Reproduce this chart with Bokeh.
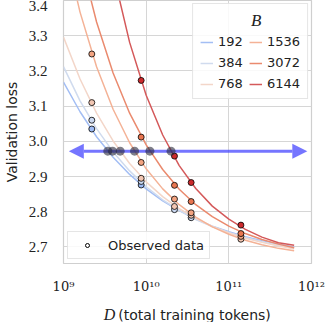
from bokeh.plotting import figure
from bokeh.layouts import column
from bokeh.models import (FixedTicker, Legend, LegendItem, Arrow, NormalHead,
                          NumeralTickFormatter)
from bokeh.core.properties import value
from bokeh.embed import file_html
from bokeh.resources import INLINE

# ---------------- data ----------------
batch_sizes = [192, 384, 768, 1536, 3072, 6144]
legend_title = "B"

# fitted curves at log10(D) grid
curve_log10_D = [9.0, 9.2, 9.4, 9.6, 9.8, 10.0, 10.2, 10.4, 10.6, 10.8, 11.0, 11.2, 11.4, 11.6, 11.79]
curve_192 = [3.168, 3.084, 3.013, 2.955, 2.906, 2.865, 2.831, 2.803, 2.779, 2.759, 2.743, 2.729, 2.718, 2.708, 2.700]
curve_384 = [3.212, 3.115, 3.036, 2.970, 2.916, 2.871, 2.834, 2.804, 2.778, 2.758, 2.741, 2.727, 2.715, 2.705, 2.698]
curve_768 = [3.296, 3.177, 3.080, 3.001, 2.937, 2.885, 2.843, 2.809, 2.781, 2.758, 2.740, 2.725, 2.713, 2.703, 2.695]
curve_1536 = [3.566, 3.367, 3.212, 3.091, 2.996, 2.922, 2.865, 2.820, 2.785, 2.757, 2.736, 2.719, 2.706, 2.696, 2.689]
curve_3072 = [3.759, 3.524, 3.339, 3.194, 3.080, 2.990, 2.920, 2.864, 2.820, 2.786, 2.759, 2.738, 2.721, 2.708, 2.698]
curve_6144 = [4.534, 4.083, 3.740, 3.479, 3.281, 3.131, 3.018, 2.931, 2.866, 2.816, 2.779, 2.750, 2.728, 2.712, 2.705]

# observed data points
obs_D_192 = [2.2e9, 8.7e9]
obs_L_192 = [3.035, 2.876]
obs_D_384 = [2.2e9, 8.7e9, 2.2e10, 3.5e10]
obs_L_384 = [3.060, 2.886, 2.806, 2.783]
obs_D_768 = [2.2e9, 8.7e9, 2.2e10, 3.5e10, 1.4e11]
obs_L_768 = [3.110, 2.895, 2.815, 2.790, 2.722]
obs_D_1536 = [2.2e9, 8.7e9, 2.2e10, 3.5e10, 1.4e11]
obs_L_1536 = [3.248, 2.940, 2.836, 2.797, 2.730]
obs_D_3072 = [8.7e9, 2.2e10, 3.5e10, 1.4e11]
obs_L_3072 = [3.012, 2.875, 2.829, 2.738]
obs_D_6144 = [8.7e9, 2.2e10, 3.5e10, 1.4e11]
obs_L_6144 = [3.173, 2.958, 2.883, 2.762]

# target loss line and where each curve crosses it
target_loss = 2.972
crossing_D = [3.43e9, 3.92e9, 4.85e9, 7.24e9, 1.11e10, 2.0e10]
arrow_D_start = 1.16e9
arrow_D_end = 8.9e11

x_ticks = [1e9, 1e10, 1e11, 1e12]
x_tick_labels = ["10⁹", "10¹⁰", "10¹¹", "10¹²"]
y_ticks = [2.7, 2.8, 2.9, 3.0, 3.1, 3.2, 3.3, 3.4]
x_label_var = "D"
x_label_rest = "(total training tokens)"

# ---------------- style ----------------
line_colors = ["#a3bef4", "#d0dbee", "#f3d6c9", "#f4b296", "#ea8a6e", "#d4595a"]
point_colors = ["#9dbbf5", "#cbd9f2", "#f2c6b2", "#f3a380", "#e8754f", "#cc2a2c"]
serif = "Liberation Serif"
sans = "DejaVu Sans"
ink = "#222222"

p = figure(width=327, height=296, x_axis_type="log",
           x_range=(1e9, 1e12), y_range=(2.653, 3.4),
           output_backend="svg", toolbar_location=None,
           min_border_top=0, min_border_left=53, min_border_right=16,
           min_border_bottom=26)

p.outline_line_color = "#cfcfcf"
p.outline_line_width = 1.2
p.background_fill_color = "white"

for ax in (p.xaxis, p.yaxis):
    ax.axis_line_color = None
    ax.major_tick_line_color = None
    ax.minor_tick_line_color = None
    ax.major_label_text_color = ink

p.xaxis.ticker = FixedTicker(ticks=x_ticks, minor_ticks=[])
p.xaxis.major_label_overrides = {t: l for t, l in zip(x_ticks, x_tick_labels)}
p.xaxis.major_label_text_font = "DejaVu Serif"
p.xaxis.major_label_text_font_size = "13px"
p.xaxis.major_label_standoff = 9
p.yaxis.ticker = FixedTicker(ticks=y_ticks, minor_ticks=[])
p.yaxis.formatter = NumeralTickFormatter(format="0.0")
p.yaxis.major_label_text_font = serif
p.yaxis.major_label_text_font_size = "15px"
p.yaxis.major_label_standoff = 10
p.yaxis.axis_label = "Validation loss"
p.yaxis.axis_label_text_font = sans
p.yaxis.axis_label_text_font_style = "normal"
p.yaxis.axis_label_text_font_size = "14px"
p.yaxis.axis_label_text_color = ink
p.yaxis.axis_label_standoff = 6

p.xgrid.ticker = FixedTicker(ticks=x_ticks, minor_ticks=[])
p.ygrid.ticker = FixedTicker(ticks=y_ticks, minor_ticks=[])
for g in (p.xgrid, p.ygrid):
    g.grid_line_color = "#d6d6d6"
    g.grid_line_width = 1

curves = [curve_192, curve_384, curve_768, curve_1536, curve_3072, curve_6144]
obs_D = [obs_D_192, obs_D_384, obs_D_768, obs_D_1536, obs_D_3072, obs_D_6144]
obs_L = [obs_L_192, obs_L_384, obs_L_768, obs_L_1536, obs_L_3072, obs_L_6144]
curve_D = [10 ** v for v in curve_log10_D]

line_renderers = []
for b, c, lc in zip(batch_sizes, curves, line_colors):
    r = p.line(curve_D, c, line_color=lc, line_width=1.5)
    line_renderers.append(r)

for D, L, pc in zip(obs_D, obs_L, point_colors):
    p.scatter(D, L, size=6, fill_color=pc, line_color="black", line_width=0.8)

arrow = Arrow(x_start=arrow_D_start, y_start=target_loss, x_end=arrow_D_end, y_end=target_loss,
              line_color="#3a3aff", line_alpha=0.7, line_width=3,
              start=NormalHead(size=15, fill_color="#3a3aff", fill_alpha=0.7, line_color=None),
              end=NormalHead(size=15, fill_color="#3a3aff", fill_alpha=0.7, line_color=None))
p.add_layout(arrow)

dots = p.scatter(crossing_D, [target_loss] * len(crossing_D), size=9,
                 fill_color="#2a2a3a", fill_alpha=0.6, line_color=None)
dots.level = "overlay"

# legend for batch sizes; title pushed to the centre with no-break spaces
legend_items = [LegendItem(label=str(b), renderers=[r]) for b, r in zip(batch_sizes, line_renderers)]
leg = Legend(items=legend_items, ncols=2, location="top_right",
             title="\u00a0" * 12 + legend_title,
             title_text_font=serif, title_text_font_style="italic",
             title_text_font_size="17px", title_text_color=ink, title_standoff=3,
             label_text_font=sans, label_text_font_size="13px", label_text_color=ink,
             glyph_width=13, glyph_height=10, label_height=14, label_standoff=5,
             spacing=6, padding=7, margin=3, border_line_color="#cccccc",
             background_fill_alpha=0.85)
p.add_layout(leg)

# legend for observed data
obs_proxy = p.scatter([float("nan")], [float("nan")], size=6, fill_color="white",
                      line_color="black", line_width=1)
leg2 = Legend(items=[LegendItem(label="Observed data", renderers=[obs_proxy])],
              location="bottom_left", label_text_font=sans, label_text_font_size="13px",
              label_text_color=ink, glyph_width=28, glyph_height=10, label_height=16,
              label_standoff=7, padding=5, margin=4, border_line_color="#cccccc",
              background_fill_alpha=0.85)
p.add_layout(leg2)

# x axis label strip (its frame is aligned with the main frame: 258 px wide)
lab = figure(width=327, height=26, x_range=(0, 258), y_range=(0, 26),
             output_backend="svg", toolbar_location=None, min_border=0)
lab.axis.visible = False
lab.grid.visible = False
lab.outline_line_color = None
lab.text(x=[42], y=[8], text=[x_label_var], text_font=value(serif),
         text_font_style="italic", text_font_size="16px", text_color=ink,
         text_baseline="alphabetic")
lab.text(x=[57], y=[8], text=[x_label_rest], text_font=value(sans),
         text_font_size="14px", text_color=ink, text_baseline="alphabetic")

layout = column(p, lab, spacing=0)
open("out.html", "w").write(file_html(layout, INLINE))
